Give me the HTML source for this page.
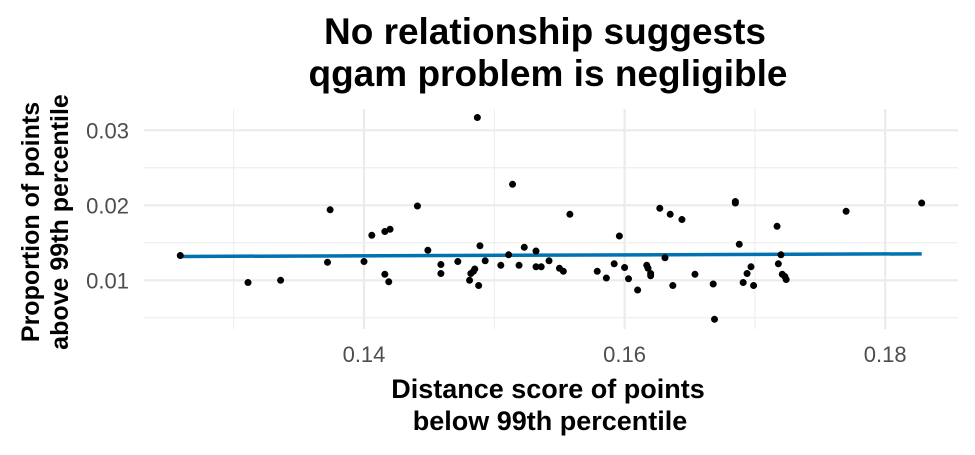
<!DOCTYPE html>
<html><head><meta charset="utf-8"><style>
body{margin:0;background:#fff;font-family:"Liberation Sans",sans-serif}
</style></head><body>
<svg width="975" height="450" viewBox="0 0 975 450" id="chart" font-family="Liberation Sans, sans-serif">
<text x="545" y="44" text-anchor="middle" font-size="37" font-weight="bold" fill="#000">No relationship suggests</text>
<text x="548" y="86" text-anchor="middle" font-size="37" font-weight="bold" fill="#000">qgam problem is negligible</text>
<g id="grid"></g>
<g id="fit"></g>
<g id="pts"></g>
<g id="ticks"></g>
<text x="548" y="398" text-anchor="middle" font-size="27" font-weight="bold">Distance score of points</text>
<text x="550" y="430" text-anchor="middle" font-size="27" font-weight="bold">below 99th percentile</text>
<text transform="translate(39,222) rotate(-90)" text-anchor="middle" font-size="25" font-weight="bold">Proportion of points</text>
<text transform="translate(68,222) rotate(-90)" text-anchor="middle" font-size="25" font-weight="bold">above 99th percentile</text>
</svg>
<script>
const xs=[0.1259,0.1311,0.1336,0.1372,0.1374,0.1400,0.1406,0.1416,0.1420,0.1416,0.1419,0.1441,0.1449,0.1459,0.1459,0.1472,0.1481,0.1482,0.1484,0.1485,0.1488,0.1487,0.1489,0.1493,0.1505,0.1511,0.1514,0.1519,0.1523,0.1532,0.1532,0.1536,0.1542,0.1550,0.1553,0.1558,0.1579,0.1586,0.1592,0.1596,0.1600,0.1603,0.1610,0.1617,0.1618,0.1620,0.1620,0.1627,0.1631,0.1635,0.1637,0.1644,0.1654,0.1668,0.1669,0.1685,0.1685,0.1688,0.1691,0.1694,0.1697,0.1699,0.1717,0.1720,0.1718,0.1721,0.1723,0.1724,0.1770,0.1828];
const ys=[0.0133,0.0097,0.0100,0.0124,0.0194,0.0125,0.0160,0.0165,0.0168,0.0108,0.0098,0.0199,0.0140,0.0121,0.0109,0.0125,0.0100,0.0109,0.0112,0.0115,0.0093,0.0317,0.0146,0.0126,0.0120,0.0134,0.0228,0.0120,0.0144,0.0139,0.0118,0.0118,0.0126,0.0116,0.0112,0.0188,0.0112,0.0103,0.0122,0.0159,0.0117,0.0102,0.0087,0.0120,0.0116,0.0109,0.0106,0.0196,0.0130,0.0188,0.0093,0.0181,0.0108,0.0095,0.0048,0.0205,0.0203,0.0148,0.0097,0.0109,0.0118,0.0093,0.0172,0.0134,0.0122,0.0108,0.0105,0.0101,0.0192,0.0203];
const fitX=[0.1259,0.1828];
const fitY=[0.01318,0.01353];
const xTicks=[0.14,0.16,0.18];
const xTickLabels=["0.14","0.16","0.18"];
const yTicks=[0.01,0.02,0.03];
const yTickLabels=["0.01","0.02","0.03"];
const xMinor=[0.13,0.15,0.17];
const yMinor=[0.005,0.015,0.025];
const L=144,R=958,T=109,B=329;
const X=v=>364+(v-0.14)*13030;
const Y=v=>280.3-(v-0.01)*7500;
const NS="http://www.w3.org/2000/svg";
function mk(t,a,p){const e=document.createElementNS(NS,t);for(const k in a)e.setAttribute(k,a[k]);p.appendChild(e);return e;}
const g=document.getElementById('grid');
yMinor.forEach(v=>{const e=mk('line',{x1:L,x2:R,y1:Y(v),y2:Y(v),stroke:'#ebebeb','stroke-width':1},g);

});
xMinor.forEach(v=>{const e=mk('line',{x1:X(v),x2:X(v),y1:T,y2:B,stroke:'#ebebeb','stroke-width':1},g);

});
yTicks.forEach(v=>{const e=mk('line',{x1:L,x2:R,y1:Y(v),y2:Y(v),stroke:'#ebebeb','stroke-width':2.2},g);

});
xTicks.forEach(v=>{const e=mk('line',{x1:X(v),x2:X(v),y1:T,y2:B,stroke:'#ebebeb','stroke-width':2.2},g);

});
const f=document.getElementById('fit');
const fl=mk('line',{x1:X(fitX[0]),y1:Y(fitY[0]),x2:X(fitX[1]),y2:Y(fitY[1]),stroke:'#0072b2','stroke-width':3.5},f);


const p=document.getElementById('pts');
xs.forEach((v,i)=>{const c=mk('circle',{cx:X(v),cy:Y(ys[i]),r:3.5,fill:'#000'},p);

});
const tk=document.getElementById('ticks');
xTicks.forEach((v,i)=>{const t=mk('text',{x:X(v),y:362,'text-anchor':'middle','font-size':22,fill:'#4d4d4d'},tk);t.textContent=xTickLabels[i];

});
yTicks.forEach((v,i)=>{const t=mk('text',{x:129,y:Y(v)+8,'text-anchor':'end','font-size':22,fill:'#4d4d4d'},tk);t.textContent=yTickLabels[i];

});
</script>
</body></html>
